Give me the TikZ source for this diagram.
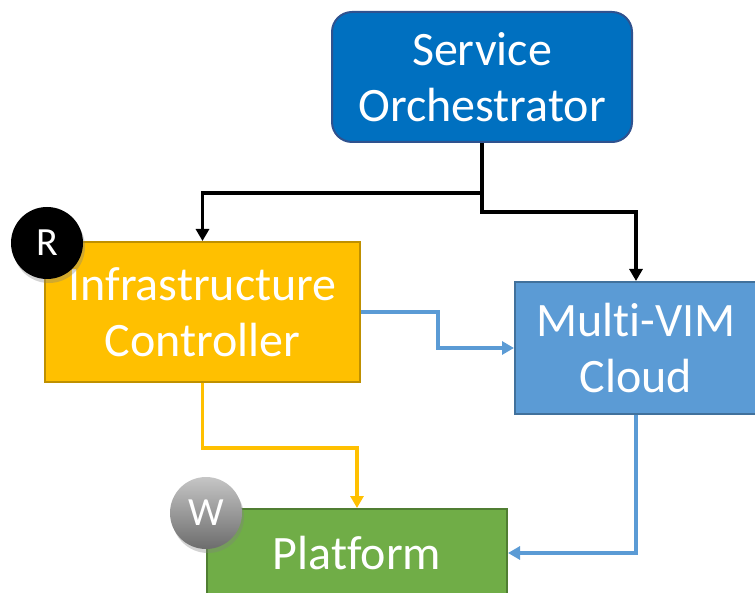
\documentclass[tikz,border=0pt]{standalone}
\usepackage{fontspec}
\setmainfont[Ligatures=NoCommon]{Carlito}
\usetikzlibrary{arrows.meta,shadows,calc}
\definecolor{soBlue}{HTML}{0070C0}
\definecolor{soEdge}{HTML}{2F528F}
\definecolor{icFill}{HTML}{FFC000}
\definecolor{icEdge}{HTML}{BF9000}
\definecolor{mvFill}{HTML}{5B9BD5}
\definecolor{mvEdge}{HTML}{41719C}
\definecolor{pfFill}{HTML}{70AD47}
\definecolor{pfEdge}{HTML}{507E32}
\tikzset{
  boxstyle/.style={draw, line width=2pt, text=white, align=center,
    font=\fontsize{48}{56}\selectfont, inner sep=0pt},
  link/.style={line width=3.5pt, -{Triangle[length=12pt,width=13pt]}},
  badge/.style={circle, minimum size=72pt, inner sep=0pt, text=white,
    font=\fontsize{40}{44}\selectfont,
    drop shadow={shadow xshift=2pt, shadow yshift=-4pt, opacity=0.35}},
}
\begin{document}
\begin{tikzpicture}[x=1pt,y=-1pt]
\useasboundingbox (0,0) rectangle (755,593);
\begin{scope}
\clip (0,0) rectangle (755,593);
% boxes
\node[boxstyle, fill=soBlue, draw=soEdge, rounded corners=20pt,
  minimum width=300pt, minimum height=130pt] (so) at (482,77) {Service\\Orchestrator};
\node[boxstyle, fill=icFill, draw=icEdge,
  minimum width=315pt, minimum height=140pt] (ic) at (202.5,312) {Infrastructure\\Controller};
\node[boxstyle, fill=mvFill, draw=mvEdge,
  minimum width=242pt, minimum height=132pt] (mv) at (636,348) {Multi-VIM\\Cloud};
\node[boxstyle, fill=pfFill, draw=pfEdge,
  minimum width=300pt, minimum height=140pt] (pf) at (357,579) {};
\node[text=white, font=\fontsize{48}{56}\selectfont, inner sep=0pt] (pft) at (357,553) {Platform};
% connectors
\draw[link, black] (so.south) -- ++(0,50) coordinate (j) -| (ic.north);
\draw[link, black] (j) -- ++(0,19) -| (mv.north);
\draw[link, mvFill] (ic.east) -- ++(77,0) |- (mv.west);
\draw[link, icFill] (ic.south) -- ++(0,65) -| (pf.north);
\draw[link, mvFill] (mv.south) |- (pf.east |- pft);
% badges
\node[badge, fill=black] (r) at (47,243) {R};
\node[badge, top color=gray!45, bottom color=gray!85!black] (w) at (206,513) {W};
\end{scope}
\end{tikzpicture}
\end{document}
